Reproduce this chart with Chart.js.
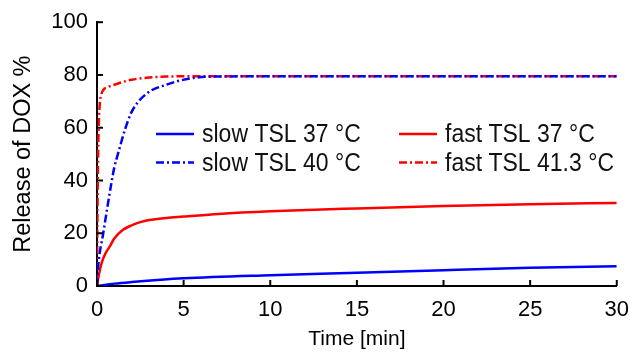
<!DOCTYPE html>
<html>
<head>
<meta charset="utf-8">
<script src="https://cdn.jsdelivr.net/npm/chart.js@4/dist/chart.umd.min.js"></script>
<style>
  html, body { margin: 0; padding: 0; background: #fff; }
  #wrap { width: 640px; height: 356px; }
</style>
</head>
<body>
<div id="wrap"><canvas id="releaseChart" width="640" height="356"></canvas></div>
<script>
// ── data ────────────────────────────────────────────────────────────────
const xTicks = [0, 5, 10, 15, 20, 25, 30];
const yTicks = [0, 20, 40, 60, 80, 100];

const slow37Time = [0, 1, 2, 5, 10, 15, 20, 25, 30];
const slow37     = [0, 0.9, 1.5, 2.9, 4.1, 5.0, 6.0, 6.9, 7.5];

const fast37Time = [0, 0.1, 0.27, 0.5, 0.74, 1, 1.5, 2, 2.5, 3, 4, 5, 7, 10, 15, 20, 25, 30];
const fast37     = [0, 4, 8.8, 12.5, 15, 18, 21.3, 23, 24.2, 25, 25.8, 26.3, 27.3, 28.3, 29.4, 30.3, 31, 31.5];

const slow40Time = [0, 0.07, 0.36, 0.83, 1, 1.25, 1.6, 2, 2.8, 4, 5.5, 7, 10, 30];
const slow40     = [0, 7.5, 20, 39, 45, 51, 59, 66, 72.6, 76.3, 78.8, 79.4, 79.5, 79.5];

const fast41Time = [0, 0.03, 0.08, 0.15, 0.25, 0.35, 0.6, 1, 2, 3, 4, 6, 30];
const fast41     = [0, 30, 55, 68, 72.5, 74.2, 75.3, 76.3, 78.2, 79, 79.4, 79.5, 79.5];

const seriesLabels = ['slow TSL 37 \u00B0C', 'slow TSL 40 \u00B0C', 'fast TSL 37 \u00B0C', 'fast TSL 41.3 \u00B0C'];

const pts = (t, v) => t.map((x, i) => ({ x: x, y: v[i] }));
const dashDot = [8, 3, 2, 3];
const BLUE = '#0000ff', RED = '#ff0000';
const FONT = '"Liberation Sans", Arial, sans-serif';

// ── legend drawn inside the plot area ───────────────────────────────────
const innerLegend = {
  id: 'innerLegend',
  afterDatasetsDraw(chart) {
    const ctx = chart.ctx;
    const slots = [[156, 134], [156, 162.5], [399, 134], [399, 162.5]];
    chart.data.datasets.forEach((ds, i) => {
      const [x, y] = slots[i];
      ctx.save();
      ctx.strokeStyle = ds.borderColor;
      ctx.lineWidth = ds.borderWidth;
      ctx.setLineDash(ds.borderDash || []);
      ctx.beginPath();
      ctx.moveTo(x, y);
      ctx.lineTo(x + 38, y);
      ctx.stroke();
      ctx.setLineDash([]);
      ctx.fillStyle = '#111';
      ctx.font = '23px ' + FONT;
      ctx.textBaseline = 'middle';
      ctx.translate(x + 46, y + 1);
      ctx.scale(1, 1.12);
      ctx.fillText(ds.label, 0, 0);
      ctx.restore();
    });
  }
};

// ── inward tick marks ───────────────────────────────────────────────────
const inwardTicks = {
  id: 'inwardTicks',
  afterDraw(chart) {
    const ctx = chart.ctx;
    const xs = chart.scales.x, ys = chart.scales.y;
    ctx.save();
    ctx.strokeStyle = '#000';
    ctx.lineWidth = 2;
    xTicks.forEach(v => {
      const px = xs.getPixelForValue(v);
      ctx.beginPath(); ctx.moveTo(px, xs.top); ctx.lineTo(px, xs.top - 6); ctx.stroke();
    });
    yTicks.forEach(v => {
      const py = ys.getPixelForValue(v);
      ctx.beginPath(); ctx.moveTo(ys.right, py); ctx.lineTo(ys.right + 6, py); ctx.stroke();
    });
    ctx.restore();
  }
};

new Chart(document.getElementById('releaseChart'), {
  type: 'line',
  data: {
    datasets: [
      { label: seriesLabels[0], data: pts(slow37Time, slow37), borderColor: BLUE, borderWidth: 2.5 },
      { label: seriesLabels[1], data: pts(slow40Time, slow40), borderColor: BLUE, borderWidth: 2.5, borderDash: dashDot },
      { label: seriesLabels[2], data: pts(fast37Time, fast37), borderColor: RED,  borderWidth: 2.5 },
      { label: seriesLabels[3], data: pts(fast41Time, fast41), borderColor: RED,  borderWidth: 2.5, borderDash: dashDot }
    ]
  },
  options: {
    responsive: false,
    animation: false,
    elements: { point: { radius: 0 }, line: { cubicInterpolationMode: 'monotone', fill: false } },
    layout: { padding: { top: 20, right: 14, left: 0, bottom: 0 } },
    plugins: { legend: { display: false }, tooltip: { enabled: false } },
    scales: {
      x: {
        type: 'linear', min: 0, max: 30,
        afterBuildTicks: s => { s.ticks = xTicks.map(v => ({ value: v })); },
        afterFit: s => { s.height = 70; },
        grid: { display: false, drawTicks: false },
        border: { display: true, color: '#000', width: 2 },
        ticks: { color: '#000', font: { family: FONT, size: 22 }, padding: 11, maxRotation: 0 },
        title: { display: true, text: 'Time [min]', color: '#000', font: { family: FONT, size: 21 }, padding: { top: 0, bottom: 4 } }
      },
      y: {
        min: 0, max: 100,
        afterBuildTicks: s => { s.ticks = yTicks.map(v => ({ value: v })); },
        afterFit: s => { s.width = 97; },
        grid: { display: false, drawTicks: false },
        border: { display: true, color: '#000', width: 2 },
        ticks: { color: '#000', font: { family: FONT, size: 22 }, padding: 9 },
        title: { display: true, text: 'Release of DOX %', color: '#000', font: { family: FONT, size: 23.5 }, padding: { top: 9, bottom: 0 } }
      }
    }
  },
  plugins: [innerLegend, inwardTicks]
});
</script>
</body>
</html>
